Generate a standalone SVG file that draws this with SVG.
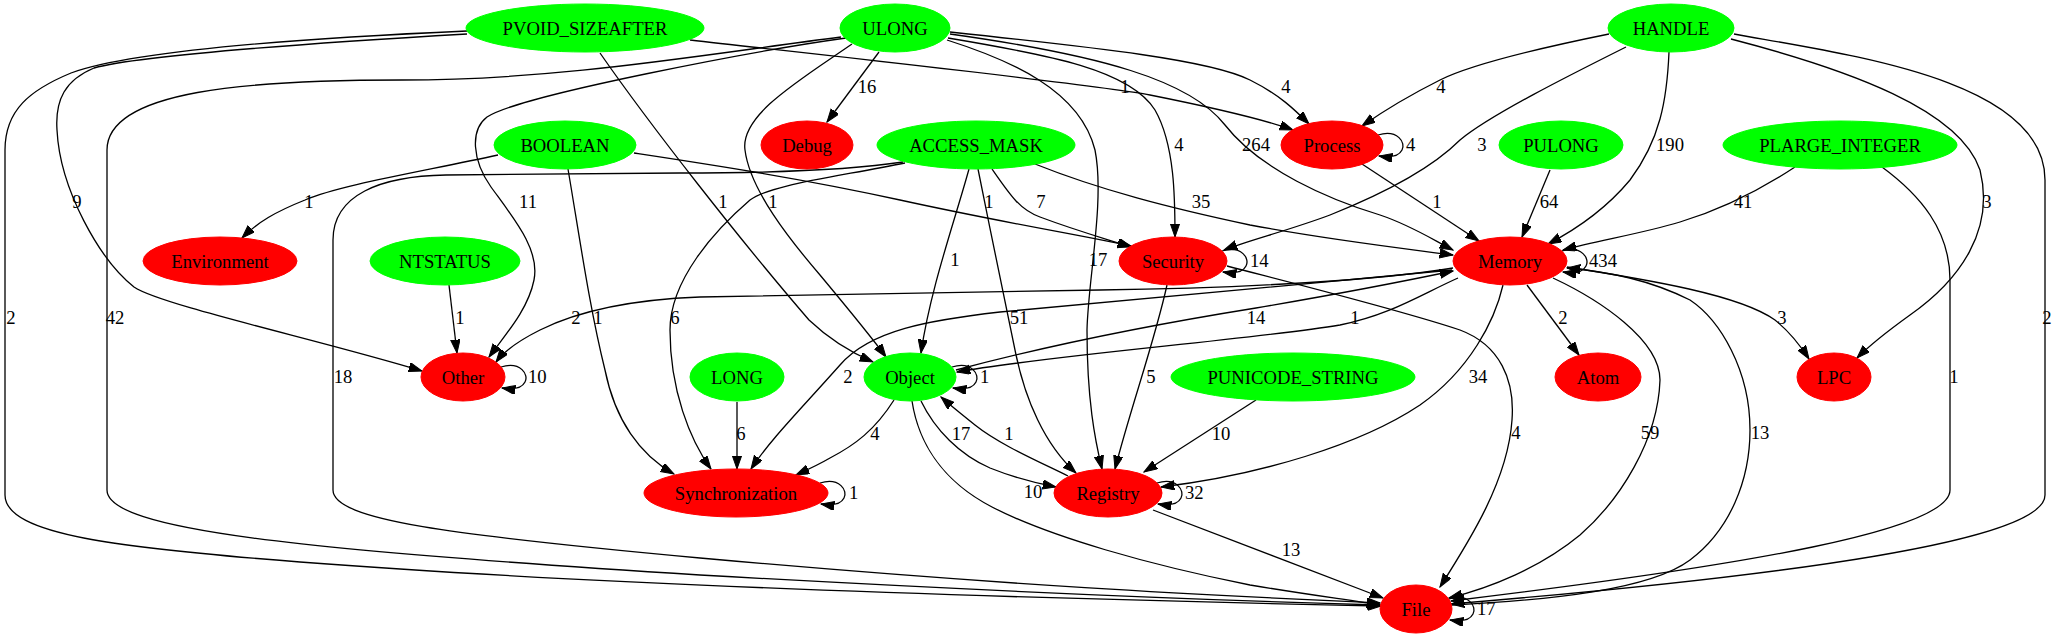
<svg xmlns="http://www.w3.org/2000/svg" width="2056" height="639" viewBox="0 0 2056 639">
<style>
  .g ellipse{fill:#00ff00;stroke:#00ff00}
  .r ellipse{fill:#ff0000;stroke:#ff0000}
  text{font-family:"Liberation Serif","Times New Roman",serif;font-size:18.67px;fill:#000}
  .n text{text-anchor:middle}
  #edges path{fill:none;stroke:#000;stroke-width:1.3;marker-end:url(#ah)}
  #edges text.m{text-anchor:middle}
  #edges text.s{text-anchor:start}
</style>
<defs>
  <marker id="ah" markerUnits="userSpaceOnUse" markerWidth="14" markerHeight="10" refX="13.3" refY="4.67" orient="auto">
    <path d="M0,0 L13.3,4.67 L0,9.33 Z" fill="#000" stroke="#000" stroke-width="1"/>
  </marker>
</defs>
<rect width="2056" height="639" fill="#fff"/>

<g id="edges">
  <!-- PVOID_SIZEAFTER -> File -->
  <path d="M467,31 C330,37 140,48 71,73 C30,90 5,110 5,150 L5,495 C5,535 120,548 300,562 C600,585 1000,598 1381,606"/>
  <text class="m" x="11" y="324">2</text>
  <!-- PVOID_SIZEAFTER -> Other -->
  <path d="M467,34 C330,42 140,55 94,68 C65,80 55,100 57,130 C60,190 100,260 134,287 C160,305 320,340 422,371"/>
  <text class="m" x="77" y="208">9</text>
  <!-- PVOID_SIZEAFTER -> Process -->
  <path d="M690,40 C850,58 1100,85 1150,95 C1200,105 1260,118 1293,130"/>
  <text class="m" x="1125" y="93">1</text>
  <!-- PVOID_SIZEAFTER -> Object -->
  <path d="M600,53 C650,125 740,240 809,320 C830,340 850,352 873,362"/>
  <text class="m" x="723" y="208">1</text>

  <!-- ULONG -> Debug -->
  <path d="M879,52 L827,122"/>
  <text class="m" x="867" y="93">16</text>
  <!-- ULONG -> Process -->
  <path d="M950,32 C1100,48 1210,60 1250,80 C1280,95 1295,110 1309,124"/>
  <text class="m" x="1286" y="93">4</text>
  <!-- ULONG -> Security -->
  <path d="M948,38 C1050,55 1130,70 1155,110 C1175,145 1175,200 1175,237"/>
  <text class="m" x="1179" y="151">4</text>
  <!-- ULONG -> Memory -->
  <path d="M950,34 C1100,55 1190,80 1225,125 C1260,170 1330,200 1380,215 C1410,225 1430,238 1453,250"/>
  <text class="m" x="1256" y="151">264</text>
  <!-- ULONG -> Object -->
  <path d="M852,44 C800,80 740,115 745,150 C750,190 790,240 820,275 C845,305 870,335 886,357"/>
  <text class="m" x="773" y="208">1</text>
  <!-- ULONG -> Registry -->
  <path d="M947,40 C1010,60 1080,90 1095,150 C1105,200 1088,280 1087,330 C1087,400 1095,440 1102,469"/>
  <text class="m" x="1098" y="266">17</text>
  <!-- ULONG -> File -->
  <path d="M841,37 C700,55 560,80 402,80 C250,80 107,90 107,150 L107,490 C107,530 300,550 700,575 C1000,592 1200,600 1380,605"/>
  <text class="m" x="115" y="324">42</text>
  <!-- ULONG -> Other -->
  <path d="M846,38 C760,50 520,95 487,117 C470,130 472,160 491,187 C515,220 540,250 534,280 C528,310 505,335 489,357"/>
  <text class="m" x="528" y="208">11</text>

  <!-- HANDLE -> Process -->
  <path d="M1609,34 C1540,48 1470,65 1440,80 C1410,95 1385,110 1362,126"/>
  <text class="m" x="1441" y="93">4</text>
  <!-- HANDLE -> Security -->
  <path d="M1626,47 C1570,75 1490,115 1460,140 C1430,170 1380,195 1330,215 C1290,230 1250,240 1224,250"/>
  <text class="m" x="1482" y="151">3</text>
  <!-- HANDLE -> Memory -->
  <path d="M1669,52 C1667,100 1660,140 1630,180 C1605,210 1575,230 1548,244"/>
  <text class="m" x="1670" y="151">190</text>
  <!-- HANDLE -> LPC -->
  <path d="M1731,39 C1850,70 1960,110 1980,170 C1995,230 1960,280 1910,315 C1885,333 1870,345 1857,358"/>
  <text class="m" x="1987" y="208">3</text>
  <!-- HANDLE -> File -->
  <path d="M1734,34 C1850,55 2045,80 2045,180 L2045,495 C2045,540 1800,575 1451,604"/>
  <text class="m" x="2047" y="324">2</text>

  <!-- BOOLEAN -> Environment -->
  <path d="M498,155 C420,172 340,185 305,200 C275,212 258,222 242,238"/>
  <text class="m" x="309" y="208">1</text>
  <!-- BOOLEAN -> Security -->
  <path d="M634,153 C700,163 800,178 900,200 C1000,222 1080,235 1131,246"/>
  <text class="m" x="989" y="208">1</text>
  <!-- BOOLEAN -> Synchronization -->
  <path d="M568,169 C580,240 590,310 605,370 C615,420 640,455 674,474"/>
  <text class="m" x="598" y="324">1</text>

  <!-- ACCESS_MASK -> File -->
  <path d="M903,162 C850,170 760,173 680,173 L446,175 C380,176 333,195 333,240 L333,490 C333,520 450,535 700,558 C1000,585 1200,595 1380,603"/>
  <text class="m" x="343" y="383">18</text>
  <!-- ACCESS_MASK -> Synchronization -->
  <path d="M905,163 C830,178 770,185 750,200 C715,230 670,280 670,330 C670,390 690,440 711,469"/>
  <text class="m" x="675" y="324">6</text>
  <!-- ACCESS_MASK -> Object -->
  <path d="M969,169 C955,220 930,290 921,353"/>
  <text class="m" x="955" y="266">1</text>
  <!-- ACCESS_MASK -> Registry -->
  <path d="M978,169 C990,230 1005,300 1015,350 C1025,400 1045,445 1076,473"/>
  <text class="m" x="1019" y="324">51</text>
  <!-- ACCESS_MASK -> Security -->
  <path d="M992,169 C1010,195 1020,210 1040,217 C1080,232 1110,240 1131,247"/>
  <text class="m" x="1041" y="208">7</text>
  <!-- ACCESS_MASK -> Memory -->
  <path d="M1035,164 C1100,190 1170,208 1250,225 C1330,240 1400,248 1453,255"/>
  <text class="m" x="1201" y="208">35</text>

  <!-- Process -> Memory -->
  <path d="M1362,164 L1479,241"/>
  <text class="m" x="1437" y="208">1</text>
  <!-- Process loop -->
  <path d="M1378,135 C1398,129 1406,143 1402,150 C1399,156 1392,158 1379,156"/>
  <text class="s" x="1406" y="151">4</text>
  <!-- PULONG -> Memory -->
  <path d="M1550,170 L1522,237"/>
  <text class="m" x="1549" y="208">64</text>
  <!-- PLARGE_INTEGER -> Memory -->
  <path d="M1795,167 C1760,190 1720,210 1680,222 C1640,234 1600,240 1563,250"/>
  <text class="m" x="1743" y="208">41</text>
  <!-- PLARGE_INTEGER -> File -->
  <path d="M1882,167 C1920,195 1950,230 1950,280 L1950,490 C1950,530 1750,565 1451,601"/>
  <text class="m" x="1954" y="383">1</text>

  <!-- NTSTATUS -> Other -->
  <path d="M449,285 L457,353"/>
  <text class="m" x="460" y="324">1</text>

  <!-- Security -> Registry -->
  <path d="M1167,285 C1155,340 1130,410 1115,469"/>
  <text class="m" x="1151" y="383">5</text>
  <!-- Security -> File -->
  <path d="M1227,266 C1300,285 1400,310 1460,330 C1500,345 1515,380 1512,420 C1508,480 1470,540 1440,587"/>
  <text class="m" x="1516" y="439">4</text>
  <!-- Security loop -->
  <path d="M1222,251 C1242,245 1250,259 1246,266 C1243,272 1236,274 1223,272"/>
  <text class="s" x="1250" y="267">14</text>

  <!-- Memory -> Other -->
  <path d="M1453,268 C1380,280 1250,288 1100,290 L700,297 C620,300 570,315 540,330 C520,340 505,350 496,362"/>
  <text class="m" x="576" y="324">2</text>
  <!-- Memory -> Synchronization -->
  <path d="M1452,270 C1300,285 1100,302 1000,312 C930,320 870,330 840,365 C800,410 770,440 751,469"/>
  <text class="m" x="848" y="383">2</text>
  <!-- Object -> Memory -->
  <path d="M956,370 C1050,345 1150,325 1256,308 C1350,292 1410,280 1453,271"/>
  <text class="m" x="1256" y="324">14</text>
  <!-- Memory -> Object -->
  <path d="M1458,278 C1420,295 1390,315 1340,325 C1250,340 1050,355 957,372"/>
  <text class="m" x="1355" y="324">1</text>
  <!-- Memory -> Atom -->
  <path d="M1527,285 L1579,355"/>
  <text class="m" x="1563" y="324">2</text>
  <!-- Memory -> LPC -->
  <path d="M1567,267 C1650,280 1740,295 1775,320 C1790,332 1800,345 1809,359"/>
  <text class="m" x="1782" y="324">3</text>
  <!-- Memory -> Registry -->
  <path d="M1503,285 C1495,320 1470,370 1420,405 C1360,445 1260,475 1161,487"/>
  <text class="m" x="1478" y="383">34</text>
  <!-- Memory -> File -->
  <path d="M1553,278 C1600,300 1660,340 1660,380 C1658,440 1620,500 1580,535 C1540,568 1490,588 1449,598"/>
  <text class="m" x="1650" y="439">59</text>
  <!-- File -> Memory -->
  <path d="M1452,605 C1550,600 1650,590 1690,560 C1730,530 1750,480 1750,430 C1750,370 1720,320 1690,300 C1650,280 1610,272 1567,268"/>
  <text class="m" x="1760" y="439">13</text>
  <!-- Memory loop -->
  <path d="M1562,251 C1582,245 1590,259 1586,266 C1583,272 1576,274 1563,272"/>
  <text class="s" x="1589" y="267">434</text>

  <!-- Other loop -->
  <path d="M501,367 C521,361 529,375 525,382 C522,388 515,390 502,388"/>
  <text class="s" x="528" y="383">10</text>

  <!-- LONG -> Synchronization -->
  <path d="M737,402 L737,469"/>
  <text class="m" x="741" y="440">6</text>

  <!-- Object -> Synchronization -->
  <path d="M894,400 C875,430 855,445 830,458 C818,465 807,470 796,475"/>
  <text class="m" x="875" y="440">4</text>
  <!-- Object -> Registry -->
  <path d="M921,401 C935,430 960,455 990,468 C1015,478 1035,483 1056,487"/>
  <text class="m" x="961" y="440">17</text>
  <!-- Registry -> Object -->
  <path d="M1068,476 C1040,462 1000,445 975,425 C960,413 950,405 941,397"/>
  <text class="m" x="1009" y="440">1</text>
  <!-- Object -> File -->
  <path d="M912,401 C918,440 940,480 992,507 C1050,537 1150,565 1250,585 C1310,595 1350,600 1380,605"/>
  <text class="m" x="1033" y="498">10</text>
  <!-- Object loop -->
  <path d="M952,367 C972,361 980,375 976,382 C973,388 966,390 953,388"/>
  <text class="s" x="980" y="383">1</text>

  <!-- PUNICODE_STRING -> Registry -->
  <path d="M1256,400 L1144,472"/>
  <text class="m" x="1221" y="440">10</text>

  <!-- Synchronization loop -->
  <path d="M820,483 C840,477 848,491 844,498 C841,504 834,506 821,504"/>
  <text class="s" x="849" y="499">1</text>

  <!-- Registry -> File -->
  <path d="M1153,510 L1383,598"/>
  <text class="m" x="1291" y="556">13</text>
  <!-- Registry loop -->
  <path d="M1157,483 C1177,477 1185,491 1181,498 C1178,504 1171,506 1158,504"/>
  <text class="s" x="1185" y="499">32</text>

  <!-- File loop -->
  <path d="M1449,599 C1469,593 1477,607 1473,614 C1470,620 1463,622 1450,620"/>
  <text class="s" x="1477" y="615">17</text>
</g>

<g id="node-PVOID_SIZEAFTER" class="n g"><ellipse cx="585" cy="28" rx="119" ry="24"/><text x="585" y="34.5">PVOID_SIZEAFTER</text></g>
<g id="node-ULONG" class="n g"><ellipse cx="895" cy="28" rx="55" ry="24"/><text x="895" y="34.5">ULONG</text></g>
<g id="node-HANDLE" class="n g"><ellipse cx="1671" cy="28" rx="63" ry="24"/><text x="1671" y="34.5">HANDLE</text></g>
<g id="node-BOOLEAN" class="n g"><ellipse cx="565" cy="145" rx="71" ry="24"/><text x="565" y="151.5">BOOLEAN</text></g>
<g id="node-Debug" class="n r"><ellipse cx="807" cy="145" rx="46" ry="24"/><text x="807" y="151.5">Debug</text></g>
<g id="node-ACCESS_MASK" class="n g"><ellipse cx="976" cy="145" rx="99" ry="24"/><text x="976" y="151.5">ACCESS_MASK</text></g>
<g id="node-Process" class="n r"><ellipse cx="1332" cy="145" rx="51" ry="24"/><text x="1332" y="151.5">Process</text></g>
<g id="node-PULONG" class="n g"><ellipse cx="1561" cy="145" rx="62" ry="24"/><text x="1561" y="151.5">PULONG</text></g>
<g id="node-PLARGE_INTEGER" class="n g"><ellipse cx="1840" cy="145" rx="117" ry="24"/><text x="1840" y="151.5">PLARGE_INTEGER</text></g>
<g id="node-Environment" class="n r"><ellipse cx="220" cy="261" rx="77" ry="24"/><text x="220" y="267.5">Environment</text></g>
<g id="node-NTSTATUS" class="n g"><ellipse cx="445" cy="261" rx="75" ry="24"/><text x="445" y="267.5">NTSTATUS</text></g>
<g id="node-Security" class="n r"><ellipse cx="1173" cy="261" rx="54" ry="24"/><text x="1173" y="267.5">Security</text></g>
<g id="node-Memory" class="n r"><ellipse cx="1510" cy="261" rx="57" ry="24"/><text x="1510" y="267.5">Memory</text></g>
<g id="node-Other" class="n r"><ellipse cx="463" cy="377" rx="42" ry="24"/><text x="463" y="383.5">Other</text></g>
<g id="node-LONG" class="n g"><ellipse cx="737" cy="377" rx="47" ry="24"/><text x="737" y="383.5">LONG</text></g>
<g id="node-Object" class="n g"><ellipse cx="910" cy="377" rx="46" ry="24"/><text x="910" y="383.5">Object</text></g>
<g id="node-PUNICODE_STRING" class="n g"><ellipse cx="1293" cy="377" rx="122" ry="24"/><text x="1293" y="383.5">PUNICODE_STRING</text></g>
<g id="node-Atom" class="n r"><ellipse cx="1598" cy="377" rx="43" ry="24"/><text x="1598" y="383.5">Atom</text></g>
<g id="node-LPC" class="n r"><ellipse cx="1834" cy="377" rx="37" ry="24"/><text x="1834" y="383.5">LPC</text></g>
<g id="node-Synchronization" class="n r"><ellipse cx="736" cy="493" rx="92" ry="24"/><text x="736" y="499.5">Synchronization</text></g>
<g id="node-Registry" class="n r"><ellipse cx="1108" cy="493" rx="54" ry="24"/><text x="1108" y="499.5">Registry</text></g>
<g id="node-File" class="n r"><ellipse cx="1416" cy="609" rx="36" ry="24"/><text x="1416" y="615.5">File</text></g>
</svg>
